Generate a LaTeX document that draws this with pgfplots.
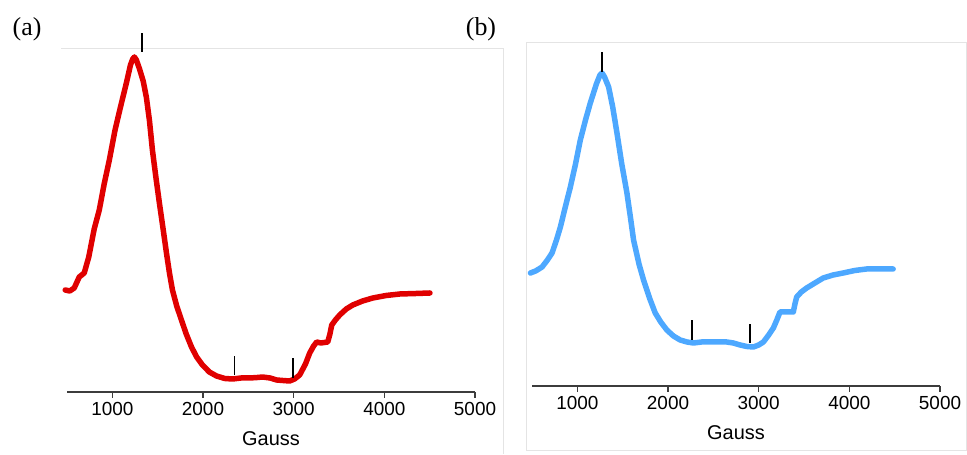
\documentclass[border=0pt]{standalone}
\usepackage{fontspec}
\setmainfont{Liberation Sans}
\newfontfamily\timesfont{Liberation Serif}
\usepackage{pgfplots}
\pgfplotsset{compat=1.18}

\definecolor{epred}{RGB}{224,0,0}
\definecolor{epblue}{RGB}{77,168,255}
\definecolor{framegray}{RGB}{228,228,228}
\definecolor{axgray}{RGB}{60,60,60}

\pgfplotsset{
  epr/.style={
    scale only axis, width=408bp,
    xmin=500, xmax=5000,
    axis x line=bottom, axis y line=none,
    axis line style={-, axgray, line width=1.1bp},
    xtick={1000,2000,3000,4000,5000},
    tick align=outside, major tick length=6bp,
    tick style={axgray, line width=1.1bp},
    /pgf/number format/assume math mode=true,
    /pgf/number format/set thousands separator={},
    ticklabel style={font=\fontsize{19}{20}\selectfont, text=black},
    xticklabel style={yshift=-1bp},
    xlabel={Gauss},
    xlabel style={font=\fontsize{20}{22}\selectfont, yshift=-9bp},
    clip=false,
  },
  mk/.style={black, line width=1.8bp},
}

\begin{document}
\begin{tikzpicture}[x=1bp,y=1bp]
\path (0,0) rectangle (967,454);
% frames
\draw[framegray, line width=0.8bp] (61,406) -- (503,406) -- (503,0);
\draw[framegray, line width=0.8bp] (526,4) rectangle (966,412);

\node[font=\timesfont\fontsize{26}{28}\selectfont] at (27,425) {(a)};
\node[font=\timesfont\fontsize{26}{28}\selectfont] at (481,425) {(b)};

% panel (a)
\begin{axis}[epr, at={(67bp,62bp)}, anchor=south west, height=344bp, ymin=62, ymax=406]
\addplot[epred, line width=5.5bp, line join=round, line cap=round] coordinates {
(480,164) (530,163) (580,166) (635,177) (690,181) (740,197) (800,225) (856,244)
(910,270) (967,294) (1030,324) (1090,347) (1155,371) (1200,389) (1225,395) (1243,397)
(1265,394) (1300,385) (1340,373) (1375,357) (1410,333) (1442,304) (1480,277) (1519,251)
(1560,225) (1597,201) (1630,181) (1663,164) (1710,148) (1762,134) (1815,120)
(1873,107) (1930,97) (1994,89) (2070,82) (2149,78) (2240,75.5) (2326,75) (2420,76) (2514,76) (2600,76.5)
(2657,77) (2740,76) (2812,74) (2880,73.5) (2956,73) (3010,75) (3066,79) (3130,90)
(3177,101) (3220,108) (3254,112) (3300,111) (3376,112) (3400,120) (3420,129) (3460,134) (3508,139)
(3580,145) (3652,149) (3760,153) (3873,156) (4020,158.5) (4171,160) (4350,160.5) (4503,161)
};
\addplot[mk] coordinates {(1330,402) (1330,421)};
\addplot[mk] coordinates {(2348,79) (2348,98)};
\addplot[mk] coordinates {(2989,76) (2989,96)};
\end{axis}

% panel (b)
\begin{axis}[epr, at={(532bp,68bp)}, anchor=south west, height=344bp, ymin=68, ymax=412]
\addplot[epblue, line width=5.5bp, line join=round, line cap=round] coordinates {
(482,181) (540,183) (611,187) (670,194) (721,201) (770,214) (813,227) (870,248)
(923,267) (980,290) (1033,314) (1090,334) (1143,351) (1210,370) (1250,379) (1272,381)
(1300,377) (1345,367) (1390,347) (1437,321) (1490,290) (1547,261) (1585,237) (1620,214) (1680,190)
(1730,174) (1800,155) (1859,141) (1920,132) (1987,124) (2060,118) (2134,114)
(2210,112) (2281,111) (2370,112) (2464,112) (2560,112) (2648,112) (2720,111)
(2795,109) (2870,107.5) (2942,107) (3000,109) (3052,112) (3110,119) (3162,126)
(3200,134) (3235,142) (3300,142) (3382,142) (3400,150) (3419,157) (3470,162) (3529,166) (3620,171)
(3712,176) (3820,179) (3932,181) (4060,183.5) (4189,185) (4330,185) (4483,185)
};
\addplot[mk] coordinates {(1272,382) (1272,402)};
\addplot[mk] coordinates {(2262,114) (2262,134)};
\addplot[mk] coordinates {(2905,111) (2905,130)};
\end{axis}
\end{tikzpicture}
\end{document}
